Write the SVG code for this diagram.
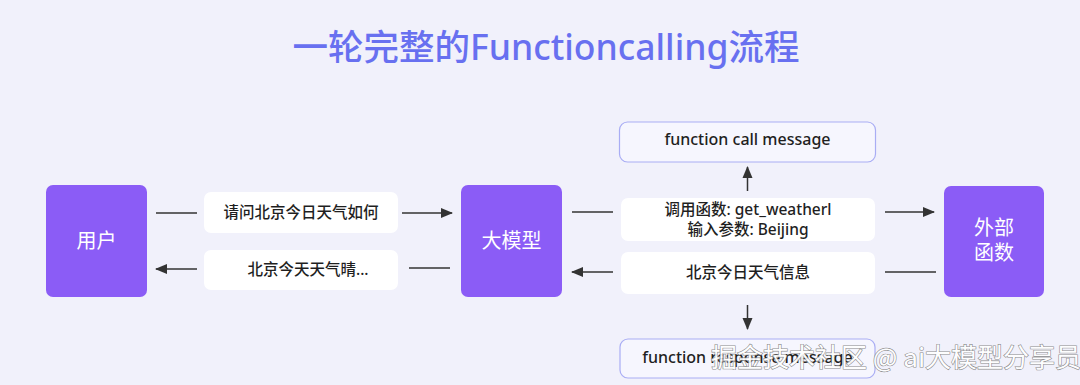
<svg xmlns="http://www.w3.org/2000/svg" width="1080" height="385" viewBox="0 0 1080 385">
  <style>
    .title { font-family: "Noto Sans", "Noto Sans CJK SC", sans-serif; font-size: 35.5px; font-weight: 500; fill: #6870f0; }
    .node rect { fill: #8b5cf6; }
    .ntext { font-family: "Noto Sans CJK SC", "Noto Sans", sans-serif; font-size: 20px; font-weight: 400; fill: #ffffff; }
    .lbox { fill: #ffffff; }
    .mbox { fill: #f6f6fe; stroke: #a9adf4; stroke-width: 1.2; }
    .ltext { font-family: "Noto Sans", "Noto Sans CJK SC", sans-serif; font-size: 15.5px; font-weight: 500; fill: #1f1f1f; }
    .lat { font-size: 16px; }
    .conn line { stroke: #333333; stroke-width: 1.5; fill: none; }
    .wm { font-family: "Noto Sans CJK SC", sans-serif; font-size: 26px; font-weight: 400; fill: #ffffff; stroke: #808080; stroke-width: 1.2; paint-order: stroke; opacity: 0.9; }
  </style>
  <defs>
    <marker id="ah" viewBox="0 0 12 12" refX="11" refY="6" markerWidth="12" markerHeight="12" markerUnits="userSpaceOnUse" orient="auto">
      <path d="M0,1 L12,6 L0,11 z" fill="#333333"/>
    </marker>
  </defs>
  <rect x="0" y="0" width="1080" height="385" fill="#f1f1fb"/>
  <text class="title" x="546" y="60" text-anchor="middle">一轮完整的Functioncalling流程</text>

  <g id="node-user" class="node">
    <rect x="46" y="185" width="101" height="112" rx="7"/>
    <text class="ntext" x="96.5" y="248" text-anchor="middle">用户</text>
  </g>
  <g id="node-llm" class="node">
    <rect x="461" y="185" width="101" height="112" rx="7"/>
    <text class="ntext" x="511.5" y="248" text-anchor="middle">大模型</text>
  </g>
  <g id="node-ext" class="node">
    <rect x="944" y="186" width="100" height="111" rx="7"/>
    <text class="ntext" x="994" y="235" text-anchor="middle">外部</text>
    <text class="ntext" x="994" y="260" text-anchor="middle">函数</text>
  </g>

  <g id="label-ask">
    <rect class="lbox" x="204" y="192" width="194" height="41" rx="7"/>
    <text class="ltext" x="301" y="218" text-anchor="middle">请问北京今日天气如何</text>
  </g>
  <g id="label-answer">
    <rect class="lbox" x="204" y="250" width="194" height="40" rx="7"/>
    <text class="ltext" x="308" y="275" text-anchor="middle">北京今天天气晴...</text>
  </g>
  <g id="label-call">
    <rect class="lbox" x="621" y="198" width="254" height="43" rx="7"/>
    <text class="ltext" x="748" y="215" text-anchor="middle">调用函数: get_weatherl</text>
    <text class="ltext" x="748" y="235" text-anchor="middle">输入参数: Beijing</text>
  </g>
  <g id="label-info">
    <rect class="lbox" x="621" y="252" width="254" height="42" rx="7"/>
    <text class="ltext" x="748" y="278" text-anchor="middle">北京今日天气信息</text>
  </g>
  <g id="node-fcm">
    <rect class="mbox" x="619.5" y="122" width="256" height="40" rx="8"/>
    <text class="ltext lat" x="747.5" y="145" text-anchor="middle">function call message</text>
  </g>
  <g id="node-frm">
    <rect class="mbox" x="620" y="339" width="255" height="39" rx="8"/>
    <text class="ltext lat" x="747.5" y="363" text-anchor="middle">function response message</text>
  </g>

  <g id="connectors" class="conn">
    <line x1="156" y1="213" x2="197" y2="213"/>
    <line x1="402" y1="213" x2="452" y2="213" marker-end="url(#ah)"/>
    <line x1="197" y1="269" x2="156" y2="269" marker-end="url(#ah)"/>
    <line x1="450" y1="268" x2="409" y2="268"/>
    <line x1="572" y1="212" x2="613" y2="212"/>
    <line x1="885" y1="212" x2="934" y2="212" marker-end="url(#ah)"/>
    <line x1="613" y1="272" x2="572" y2="272" marker-end="url(#ah)"/>
    <line x1="936" y1="272" x2="885" y2="272"/>
    <line x1="747.5" y1="191" x2="747.5" y2="167" marker-end="url(#ah)"/>
    <line x1="747.5" y1="305" x2="747.5" y2="329" marker-end="url(#ah)"/>
  </g>

  <text class="wm" x="711" y="367">掘金技术社区 @ ai大模型分享员</text>
</svg>
